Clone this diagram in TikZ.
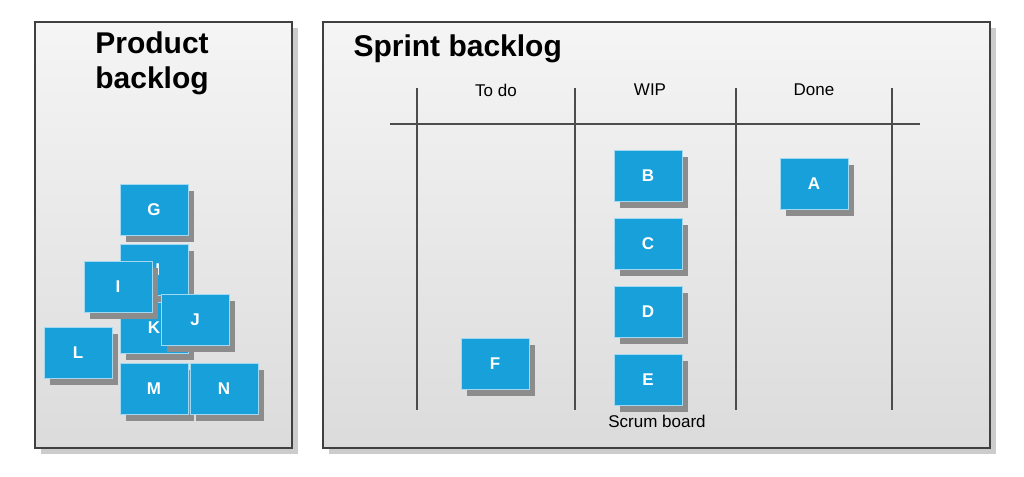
\documentclass[tikz,border=0pt]{standalone}
\usepackage{fontspec}
\setmainfont{Liberation Sans}
\usetikzlibrary{shadows}
\definecolor{cardblue}{RGB}{24,160,218}
\begin{document}
\begin{tikzpicture}[x=1pt,y=-1pt,
    panel/.style={draw=black!75,line width=1.5pt,top color=gray!8,bottom color=gray!28},
    card/.style={fill=cardblue,draw=white!60!cardblue,line width=0.4pt,minimum width=68pt,minimum height=51pt,
      text=white,font=\bfseries\fontsize{17}{17}\selectfont,inner sep=0pt,
      general shadow={fill=black!45,shadow xshift=6pt,shadow yshift=-6pt}},
    col/.style={font=\fontsize{17}{17}\selectfont},
    board/.style={black!70,line width=1.3pt}]
  \useasboundingbox (0,0) rectangle (1024,476);

  % panels
  \fill[gray!40] (41,28) rectangle (298,454);
  \fill[gray!40] (329,28) rectangle (996,454);
  \draw[panel] (35,22) rectangle (292,448);
  \draw[panel] (323,22) rectangle (990,448);

  \node (pb) at (152,63) [align=center,font=\bfseries\fontsize{30}{35}\selectfont] {Product\\backlog};
  \node (sb) [anchor=west,font=\bfseries\fontsize{30}{30}\selectfont] at (350,49) {Sprint backlog};

  % scrum board
  \foreach \x/\n in {417/a,575/b,736/c,892/d}
    \draw[board] (\x,88) coordinate (top\n) -- (\x,410) coordinate (bot\n);
  \coordinate (hl) at (390,124);
  \coordinate (hr) at (920,124);
  \draw[board] (hl) -- (hr);
  \node (todo) [col] at (496,90) {To do};
  \node (wip) [col] at (650,90) {WIP};
  \node (done) [col] at (814,90) {Done};
  \node (scrum) [col] at (657,421) {Scrum board};

  % product backlog cards
  \node (G) [card] at (154,210) {G};
  \node (H) [card] at (154,270) {H};
  \node (K) [card] at (154,328) {K};
  \node (I) [card] at (118,287) {I};
  \node (J) [card] at (195,320) {J};
  \node (L) [card] at (78,353) {L};
  \node (M) [card] at (154,389) {M};
  \node (N) [card] at (224,389) {N};

  % sprint cards
  \node (B) [card] at (648,176) {B};
  \node (C) [card] at (648,244) {C};
  \node (D) [card] at (648,312) {D};
  \node (E) [card] at (648,380) {E};
  \node (A) [card] at (814,184) {A};
  \node (F) [card] at (495,364) {F};
\end{tikzpicture}
\end{document}
